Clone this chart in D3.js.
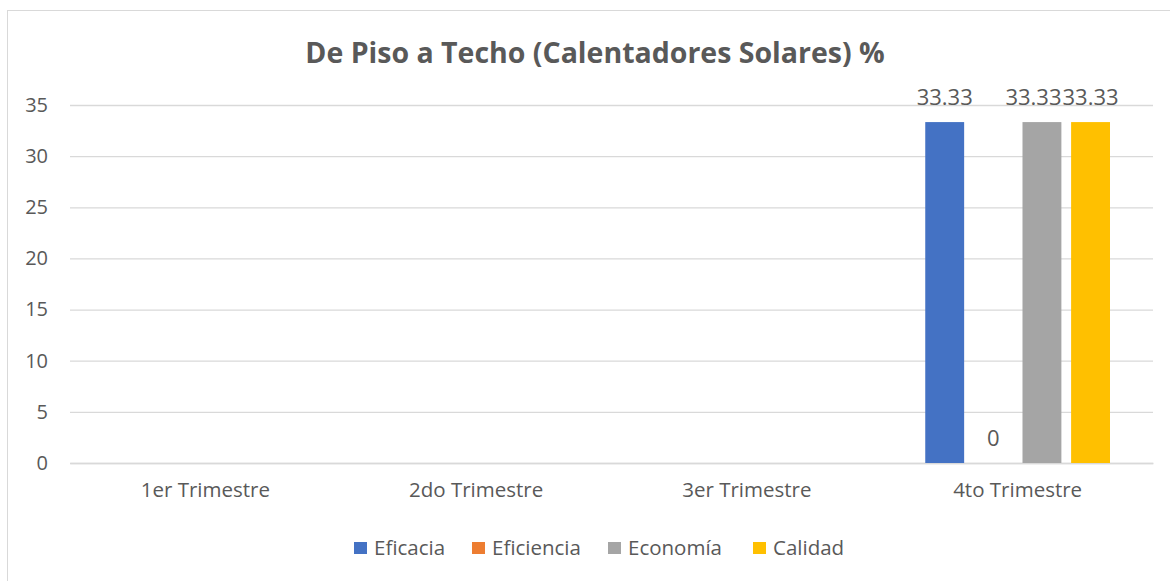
<!DOCTYPE html>
<html><head><meta charset="utf-8">
<script src="https://cdn.jsdelivr.net/npm/d3@7"></script>
<style>
html,body{margin:0;padding:0;background:#fff;}
text{font-family:"Open Sans","Noto Sans",sans-serif;fill:#595959;}
</style></head>
<body><svg id="chart" width="1170" height="581"></svg>
<script>
const title = "De Piso a Techo (Calentadores Solares) %";
const categories = ["1er Trimestre","2do Trimestre","3er Trimestre","4to Trimestre"];
const seriesNames = ["Eficacia","Eficiencia","Economía","Calidad"];
const eficacia   = [null,null,null,33.33];
const eficiencia = [null,null,null,0];
const economia   = [null,null,null,33.33];
const calidad    = [null,null,null,33.33];
const yTicks = [0,5,10,15,20,25,30,35];
const colors = ["#4472C4","#ED7D31","#A5A5A5","#FFC000"];
const seriesValues = [eficacia, eficiencia, economia, calidad];

(function(){
const svg = d3.select("#chart");
svg.append("rect").attr("x",7.5).attr("y",10.5).attr("width",1180).attr("height",600)
  .attr("fill","none").attr("stroke","#D9D9D9").attr("stroke-width",1);

const pL=70, pR=1153, pT=105, pB=463;
const x = d3.scaleBand().domain(categories).range([pL,pR]).paddingInner(0).paddingOuter(0);
const xs = d3.scaleBand().domain(seriesNames)
  .range([43, x.bandwidth()-43]).paddingInner(0.2).paddingOuter(0);
const y = d3.scaleLinear().domain([0,35]).range([pB,pT]);

const yAxis = d3.axisLeft(y).tickValues(yTicks).tickSize(-(pR-pL)).tickPadding(22);
const gy = svg.append("g").attr("transform",`translate(${pL},0)`).call(yAxis);
gy.select(".domain").remove();
gy.selectAll(".tick line").attr("stroke","#D9D9D9").attr("stroke-width",1.3);
gy.selectAll(".tick text").attr("font-size",20).attr("fill","#595959")
  .style("font-family",'"Open Sans","Noto Sans",sans-serif');

const xAxis = d3.axisBottom(x).tickSize(0).tickPadding(19);
const gx = svg.append("g").attr("transform",`translate(0,${pB})`).call(xAxis);
gx.select(".domain").attr("stroke","#D9D9D9").attr("stroke-width",1.3);
gx.selectAll(".tick text").attr("font-size",20.5).attr("fill","#595959")
  .style("font-family",'"Open Sans","Noto Sans",sans-serif');

const rows = [];
categories.forEach((c,ci)=>{
  seriesNames.forEach((s,si)=>{
    const v = seriesValues[si][ci];
    if (v!==null && v!==undefined) rows.push({c,s,si,v});
  });
});
svg.append("g").selectAll("rect").data(rows).join("rect")
  .attr("x",d=>x(d.c)+xs(d.s))
  .attr("y",d=>y(d.v))
  .attr("width",xs.bandwidth())
  .attr("height",d=>y(0)-y(d.v))
  .attr("fill",d=>colors[d.si]);

const labels = svg.append("g").selectAll("text").data(rows).join("text")
  .attr("x",d=>x(d.c)+xs(d.s)+xs.bandwidth()/2)
  .attr("y",d=>y(d.v)-17)
  .attr("text-anchor","middle")
  .attr("font-size",22)
  .attr("fill","#404040")
  .text(d=>d.v);
const nodes = labels.nodes();
for (let i=nodes.length-2;i>=0;i--){
  const a=nodes[i], b=nodes[i+1];
  const ba=a.getBBox(), bb=b.getBBox();
  if (Math.abs(ba.y-bb.y)<5 && ba.x+ba.width>bb.x){
    const shift = ba.x+ba.width-bb.x+1;
    a.setAttribute("x", +a.getAttribute("x")-shift);
  }
}

svg.append("text").attr("x",595).attr("y",63).attr("text-anchor","middle")
  .attr("font-size",28.5).attr("font-weight","bold").attr("fill","#595959").text(title);

const legX = [354,472,608,753];
const leg = svg.append("g").selectAll("g").data(seriesNames).join("g")
  .attr("transform",(d,i)=>`translate(${legX[i]},542)`);
leg.append("rect").attr("width",13).attr("height",12).attr("fill",(d,i)=>colors[i]);
leg.append("text").attr("x",20).attr("y",13).attr("font-size",20.5).attr("fill","#595959").text(d=>d);
})();
</script></body></html>
